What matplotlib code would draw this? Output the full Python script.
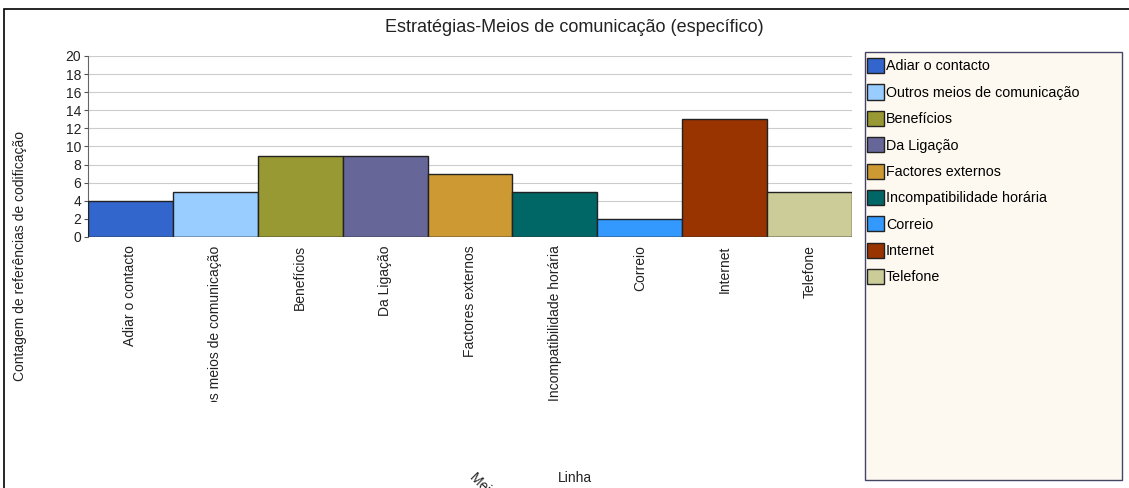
import numpy as np
import matplotlib
matplotlib.use("Agg")
import matplotlib.pyplot as plt
from matplotlib.patches import Rectangle
from matplotlib.transforms import Bbox

plt.rcParams['font.family'] = ['Liberation Sans', 'DejaVu Sans']

categorias = ["Adiar o contacto", "Outros meios de comunicação", "Benefícios",
              "Da Ligação", "Factores externos", "Incompatibilidade horária",
              "Correio", "Internet", "Telefone"]
valores = [4, 5, 9, 9, 7, 5, 2, 13, 5]
cores = ["#3366CC", "#99CCFF", "#999933", "#666699", "#CC9933",
         "#006666", "#3399FF", "#993300", "#CCCC99"]
yticks = [0, 2, 4, 6, 8, 10, 12, 14, 16, 18, 20]

W, H = 1129, 488
fig = plt.figure(figsize=(W / 100, H / 100), dpi=100)
fig.patch.set_facecolor("white")

# moldura exterior
fig.patches.append(Rectangle((4 / W, -0.1), 1.2, (H - 9) / H + 0.1,
                             transform=fig.transFigure, fill=False,
                             edgecolor="black", lw=1.2))

ax = fig.add_axes([88 / W, (H - 237) / H, (852 - 88) / W, (237 - 56) / H])
x = np.arange(len(categorias))
barras = ax.bar(x, valores, width=1.0, color=cores, edgecolor="#222222", lw=1.0, zorder=3)
ax.set_xlim(-0.5, len(categorias) - 0.5)
ax.set_ylim(0, 20)
ax.set_yticks(yticks)
ax.set_yticklabels([str(v) for v in yticks], fontsize=10, color="#222222")
ax.yaxis.grid(True, color="#cccccc", lw=0.8, zorder=0)
ax.set_xticks(x)
ax.set_xticklabels(categorias, rotation=90, fontsize=10, va="top", ha="center", color="#222222")
ax.tick_params(axis="x", length=0, pad=6)
ax.tick_params(axis="y", length=3, pad=2, color="#555555")
for s in ["top", "right", "bottom"]:
    ax.spines[s].set_visible(False)
ax.spines["left"].set_color("#666666")
ax.axhline(0, color="#444444", lw=1, zorder=4)

# rótulos cortados na parte de baixo
clip = Bbox.from_extents(0, H - 402, W, H)
for lab in ax.get_xticklabels():
    lab.set_clip_on(True)
    lab.set_clip_box(clip)

fig.text(574 / W, (H - 27) / H,
         "Estratégias-Meios de comunicação (específico)",
         ha="center", va="center", fontsize=13, color="#222222")
fig.text(20 / W, (H - 256) / H, "Contagem de referências de codificação",
         rotation=90, ha="center", va="center", fontsize=10, color="#222222")
fig.text(575 / W, (H - 478) / H, "Linha", ha="center", va="center",
         fontsize=10, color="#222222")
fig.text(467 / W, (H - 470) / H, "Meios de comunicação", rotation=-45,
         ha="left", va="top", fontsize=10, color="#222222")

# caixa da legenda
fig.patches.append(Rectangle((865 / W, (H - 480) / H), (1122 - 865) / W, (480 - 52) / H,
                             transform=fig.transFigure, facecolor="#FDF9F0",
                             edgecolor="#444466", lw=1.0, zorder=0))
fig.legend(barras, categorias, loc="upper left",
           bbox_to_anchor=(867 / W, (H - 58) / H), frameon=False,
           fontsize=10.3, handlelength=1.2, handleheight=1.25,
           handletextpad=0.12, labelspacing=0.77, borderaxespad=0,
           borderpad=0)

fig.savefig("out.png", dpi=100)
